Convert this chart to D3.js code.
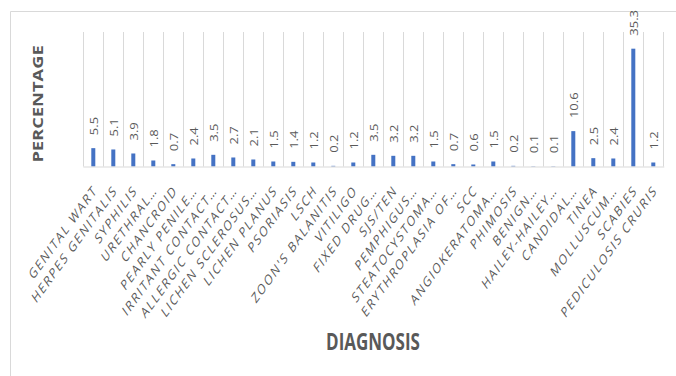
<!DOCTYPE html>
<html><head><meta charset="utf-8">
<script src="https://cdn.jsdelivr.net/npm/d3@7"></script>
<style>
html,body{margin:0;padding:0;background:#fff;}
svg{display:block;}
text{font-family:"Open Sans","Liberation Sans",sans-serif;}
</style></head>
<body>
<svg id="chart" width="676" height="376"></svg>
<script>
const categories = ["GENITAL WART","HERPES GENITALIS","SYPHILIS","URETHRAL…","CHANCROID","PEARLY PENILE…","IRRITANT CONTACT…","ALLERGIC CONTACT…","LICHEN SCLEROSUS…","LICHEN PLANUS","PSORIASIS","LSCH","ZOON'S BALANITIS","VITILIGO","FIXED DRUG…","SJS/TEN","PEMPHIGUS…","STEATOCYSTOMA…","ERYTHROPLASIA OF…","SCC","ANGIOKERATOMA…","PHIMOSIS","BENIGN…","HAILEY-HAILEY…","CANDIDAL…","TINEA","MOLLUSCUM…","SCABIES","PEDICULOSIS CRURIS"];
const values = [5.5,5.1,3.9,1.8,0.7,2.4,3.5,2.7,2.1,1.5,1.4,1.2,0.2,1.2,3.5,3.2,3.2,1.5,0.7,0.6,1.5,0.2,0.1,0.1,10.6,2.5,2.4,35.3,1.2];
const yDomain = [0, 40];
const xTitle = "DIAGNOSIS";
const yTitle = "PERCENTAGE";

const svg = d3.select("#chart");
const data = categories.map((c,i)=>({c, v: values[i]}));

const plot = {left: 83.3, right: 663.3, top: 32, bottom: 166.5};
const x = d3.scaleBand().domain(categories).range([plot.left, plot.right]).padding(0);
const y = d3.scaleLinear().domain(yDomain).range([plot.bottom, 33]);
const stretch = 1.3;

// frame
svg.append("path").attr("d","M10.5,376 V11.5 H676").attr("fill","none").attr("stroke","#d9d9d9").attr("stroke-width",1);

// vertical gridlines at category boundaries
const bounds = categories.map(c => x(c)).concat([x(categories[categories.length-1]) + x.bandwidth()]);
svg.append("g").selectAll("line").data(bounds).join("line")
  .attr("x1", d => Math.round(d)+0.5).attr("x2", d => Math.round(d)+0.5)
  .attr("y1", plot.top).attr("y2", plot.bottom)
  .attr("stroke","#d9d9d9").attr("stroke-width",1);

// bars
const bw = 4;
svg.append("g").selectAll("rect").data(data).join("rect")
  .attr("x", d => x(d.c) + x.bandwidth()/2 - bw/2)
  .attr("width", bw)
  .attr("y", d => y(d.v))
  .attr("height", d => plot.bottom - y(d.v))
  .attr("fill","#4472c4");

// value labels
svg.append("g").selectAll("text").data(data).join("text")
  .attr("transform", d => `translate(${x(d.c)+x.bandwidth()/2+1.5},${y(d.v)-13}) scale(1,${stretch}) rotate(-90)`)
  .attr("dy","0.35em")
  .attr("text-anchor","start")
  .attr("font-size","10px")
  .attr("fill","#595959")
  .text(d => d.v.toFixed(1));

// x axis
const xAxis = svg.append("g").attr("transform",`translate(0,${plot.bottom})`)
  .call(d3.axisBottom(x).tickSize(0).tickPadding(0));
xAxis.select(".domain").attr("stroke","#d9d9d9").attr("d",`M${plot.left},0.5H${plot.right+1}`);
xAxis.selectAll(".tick text")
  .attr("x",0).attr("y",0).attr("dy","0.35em")
  .attr("text-anchor","end")
  .attr("font-family",'"Open Sans","Liberation Sans",sans-serif')
  .attr("font-size","10.5px")
  .attr("letter-spacing","1.5px")
  .attr("fill","#595959")
  .attr("transform",`translate(2,21) scale(1,1.38) rotate(-45)`);

// axis titles
svg.append("text")
  .attr("transform",`translate(373,350) scale(1,1.38)`)
  .attr("text-anchor","middle")
  .attr("font-family",'"Liberation Sans",Arial,sans-serif')
  .attr("font-weight","bold")
  .attr("font-size","17px")
  .attr("fill","#595959")
  .text(xTitle);

svg.append("text")
  .attr("transform",`translate(43,104) scale(1,1.22) rotate(-90)`)
  .attr("text-anchor","middle")
  .attr("font-family",'"Liberation Sans",Arial,sans-serif')
  .attr("font-weight","bold")
  .attr("font-size","15px")
  .attr("fill","#595959")
  .text(yTitle);
</script>
</body></html>
